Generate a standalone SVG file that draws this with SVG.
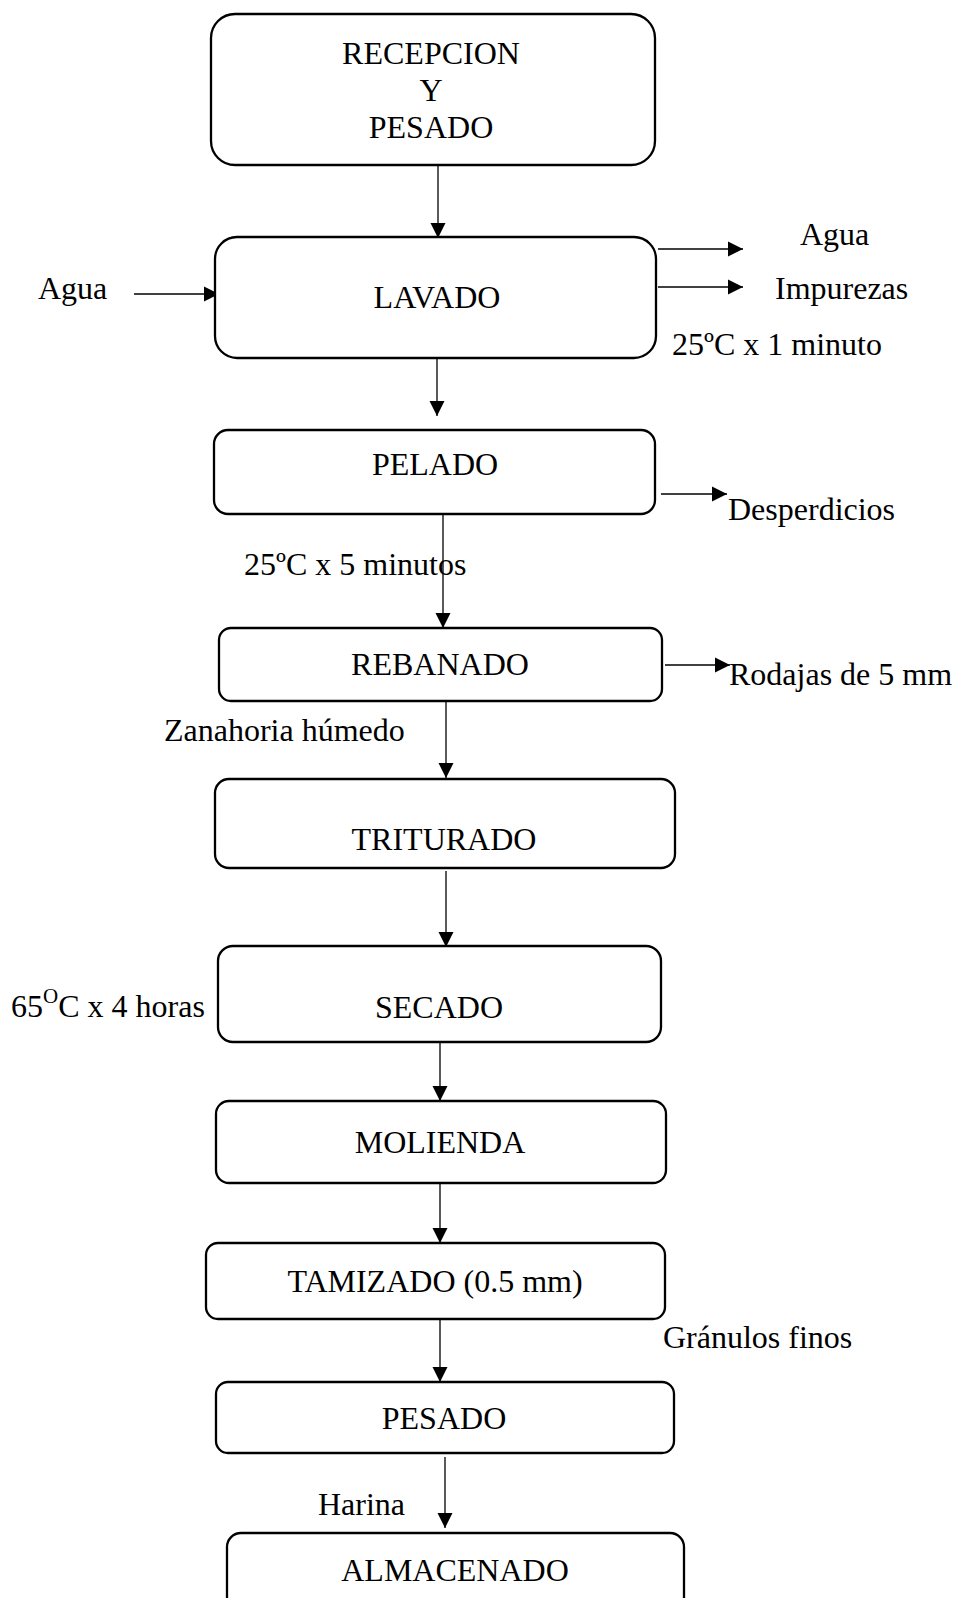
<svg xmlns="http://www.w3.org/2000/svg" width="955" height="1598" viewBox="0 0 955 1598">
  <defs>
    <marker id="ah" markerUnits="userSpaceOnUse" markerWidth="16" markerHeight="16" refX="15" refY="8" orient="auto">
      <path d="M0,0.5 L15,8 L0,15.5 z" fill="#000"/>
    </marker>
  </defs>
  <style>
    .box { fill: #fff; stroke: #000; stroke-width: 2.3; }
    .lbl { font-family: "Liberation Serif", "Times New Roman", serif; font-size: 32px; fill: #000; }
    .mid { text-anchor: middle; }
    .con { stroke: #000; stroke-width: 1.3; fill: none; marker-end: url(#ah); }
  </style>
  <rect width="955" height="1598" fill="#fff"/>

  <g id="connectors">
    <line class="con" x1="438" y1="165" x2="438" y2="238"/>
    <line class="con" x1="134" y1="294" x2="219" y2="294"/>
    <line class="con" x1="658" y1="249" x2="743" y2="249"/>
    <line class="con" x1="658" y1="287" x2="743" y2="287"/>
    <line class="con" x1="437" y1="347" x2="437" y2="416"/>
    <line class="con" x1="661" y1="494" x2="727" y2="494"/>
    <line class="con" x1="443" y1="514" x2="443" y2="628"/>
    <line class="con" x1="665" y1="665" x2="730" y2="665"/>
    <line class="con" x1="446" y1="701" x2="446" y2="778"/>
    <line class="con" x1="446" y1="871" x2="446" y2="947"/>
    <line class="con" x1="440" y1="1031" x2="440" y2="1101"/>
    <line class="con" x1="440" y1="1183" x2="440" y2="1243"/>
    <line class="con" x1="440" y1="1319" x2="440" y2="1382"/>
    <line class="con" x1="445" y1="1457" x2="445" y2="1528"/>
  </g>

  <g id="recepcion">
    <rect class="box" x="211" y="14" width="444" height="151" rx="24"/>
    <text class="lbl mid" x="431" y="64">RECEPCION</text>
    <text class="lbl mid" x="431" y="101">Y</text>
    <text class="lbl mid" x="431" y="138">PESADO</text>
  </g>

  <g id="lavado">
    <rect class="box" x="215" y="237" width="441" height="121" rx="22"/>
    <text class="lbl mid" x="437" y="308">LAVADO</text>
  </g>

  <g id="pelado">
    <rect class="box" x="214" y="430" width="441" height="84" rx="14"/>
    <text class="lbl mid" x="435" y="475">PELADO</text>
  </g>

  <g id="rebanado">
    <rect class="box" x="219" y="628" width="443" height="73" rx="12"/>
    <text class="lbl mid" x="440" y="675">REBANADO</text>
  </g>

  <g id="triturado">
    <rect class="box" x="215" y="779" width="460" height="89" rx="14"/>
    <text class="lbl mid" x="444" y="850">TRITURADO</text>
  </g>

  <g id="secado">
    <rect class="box" x="218" y="946" width="443" height="96" rx="15"/>
    <text class="lbl mid" x="439" y="1018">SECADO</text>
  </g>

  <g id="molienda">
    <rect class="box" x="216" y="1101" width="450" height="82" rx="13"/>
    <text class="lbl mid" x="440" y="1153">MOLIENDA</text>
  </g>

  <g id="tamizado">
    <rect class="box" x="206" y="1243" width="459" height="76" rx="12"/>
    <text class="lbl mid" x="435" y="1292">TAMIZADO (0.5 mm)</text>
  </g>

  <g id="pesado">
    <rect class="box" x="216" y="1382" width="458" height="71" rx="12"/>
    <text class="lbl mid" x="444" y="1429">PESADO</text>
  </g>

  <g id="almacenado">
    <rect class="box" x="227" y="1533" width="457" height="80" rx="14"/>
    <text class="lbl mid" x="455" y="1581">ALMACENADO</text>
  </g>

  <g id="labels">
    <text class="lbl" x="38" y="299">Agua</text>
    <text class="lbl" x="800" y="245">Agua</text>
    <text class="lbl" x="775" y="299">Impurezas</text>
    <text class="lbl" x="672" y="355">25ºC x 1 minuto</text>
    <text class="lbl" x="728" y="520">Desperdicios</text>
    <text class="lbl" x="244" y="575">25ºC x 5 minutos</text>
    <text class="lbl" x="729" y="685">Rodajas de 5 mm</text>
    <text class="lbl" x="164" y="741">Zanahoria húmedo</text>
    <text class="lbl" x="11" y="1017">65<tspan font-size="21" dy="-14">O</tspan><tspan dy="14">C x 4 horas</tspan></text>
    <text class="lbl" x="663" y="1348">Gránulos finos</text>
    <text class="lbl" x="318" y="1515">Harina</text>
  </g>
</svg>
